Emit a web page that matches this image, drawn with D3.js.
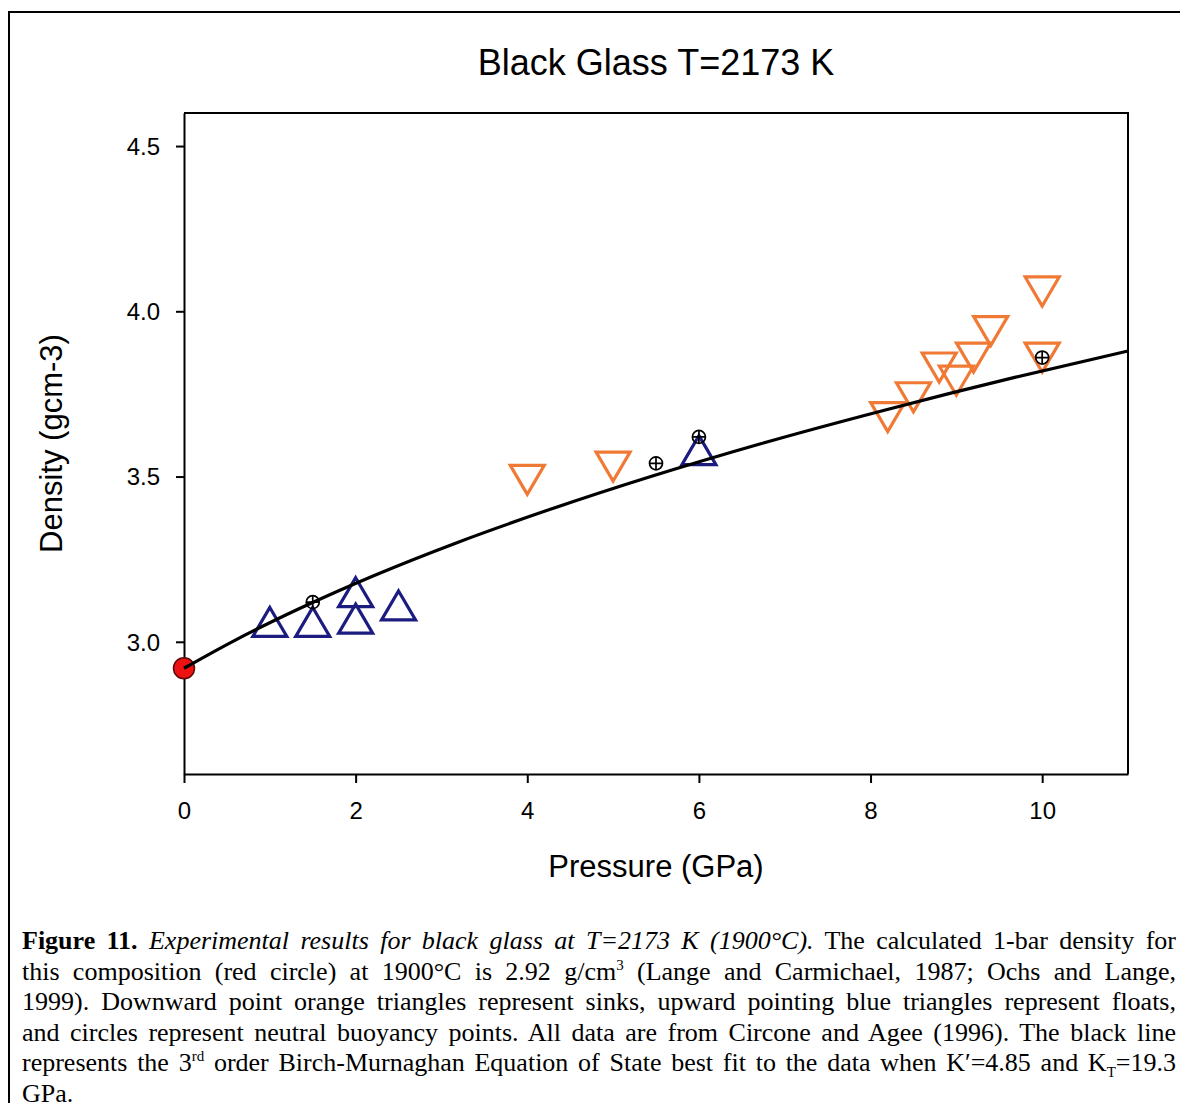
<!DOCTYPE html>
<html>
<head>
<meta charset="utf-8">
<script src="https://cdn.jsdelivr.net/npm/d3@7"></script>
<style>
  html, body { margin: 0; padding: 0; background: #fff; }
  body { width: 1180px; height: 1103px; position: relative; overflow: hidden; }
  #frame { position: absolute; left: 8px; top: 11px; width: 1300px; height: 1200px;
           border-left: 2px solid #000; border-top: 2px solid #000; }
  svg { position: absolute; left: 0; top: 0; }
  #caption { position: absolute; left: 22px; top: 926px; width: 1154px;
             font-family: "Liberation Serif", "Times New Roman", serif; font-size: 26px;
             line-height: 30.5px; color: #000; }
  #caption .ln { text-align: justify; text-align-last: justify; white-space: nowrap; }
  #caption .ln.last { text-align-last: left; }
  #caption sup, #caption sub { font-size: 15px; line-height: 0; }
</style>
</head>
<body>
<div id="frame"></div>
<svg id="chart" width="1180" height="1103"></svg>
<div id="caption"></div>
<script>
// Density measurements (g/cm^3) versus pressure (GPa)
const sinkP      = [4.0, 5.0, 8.2, 8.5, 8.8, 9.0, 9.2, 9.4, 10.0, 10.0];
const sinkRho    = [3.49, 3.53, 3.68, 3.74, 3.83, 3.79, 3.86, 3.94, 4.06, 3.86];
const floatP     = [1.0, 1.5, 2.0, 2.0, 2.5, 6.0];
const floatRho   = [3.06, 3.06, 3.15, 3.07, 3.11, 3.58];
const neutralP   = [1.5, 5.5, 6.0, 10.0];
const neutralRho = [3.12, 3.54, 3.62, 3.86];
const oneBarP    = [0];
const oneBarRho  = [2.92];

// Birch-Murnaghan fit curve, sampled along the drawn line
const fitP   = [0, 0.56, 1.34, 2.21, 3.18, 4.26, 5.44, 6.73, 8.15, 9.68, 11.0];
const fitRho = [2.92, 3.00, 3.10, 3.20, 3.30, 3.40, 3.50, 3.60, 3.70, 3.80, 3.88];

const xTicks = [0, 2, 4, 6, 8, 10];
const yTicks = [3.0, 3.5, 4.0, 4.5];

const svg = d3.select("#chart");
const plotL = 184, plotR = 1128, plotT = 113, plotB = 774;

const x = d3.scaleLinear().domain([0, 11]).range([plotL, plotR]);
const y = d3.scaleLinear().domain([2.6, 4.6]).range([plotB, plotT]);

const font = "Arial, 'Liberation Sans', sans-serif";

// Plot frame: top and right edges
svg.append("path")
  .attr("d", `M${plotL},${plotT}H${plotR}V${plotB}`)
  .attr("fill", "none").attr("stroke", "#000").attr("stroke-width", 2);

// Axes
const xAxis = svg.append("g").attr("transform", `translate(0,${plotB})`)
  .call(d3.axisBottom(x).tickValues(xTicks).tickFormat(d3.format("d")).tickSizeInner(9).tickSizeOuter(0).tickPadding(19));
const yAxis = svg.append("g").attr("transform", `translate(${plotL},0)`)
  .call(d3.axisLeft(y).tickValues(yTicks).tickFormat(d3.format(".1f")).tickSizeInner(8).tickSizeOuter(0).tickPadding(16));
[xAxis, yAxis].forEach(g => {
  g.select(".domain").attr("stroke", "#000").attr("stroke-width", 2);
  g.selectAll(".tick line").attr("stroke", "#000").attr("stroke-width", 2);
  g.selectAll(".tick text").attr("font-family", font).attr("font-size", 24).attr("fill", "#000");
});
yAxis.selectAll(".tick text").attr("dy", "0.35em");

// Titles
svg.append("text").attr("x", (plotL + plotR) / 2).attr("y", 75)
  .attr("text-anchor", "middle").attr("font-family", font).attr("font-size", 36)
  .text("Black Glass T=2173 K");
svg.append("text").attr("x", (plotL + plotR) / 2).attr("y", 877)
  .attr("text-anchor", "middle").attr("font-family", font).attr("font-size", 31)
  .text("Pressure (GPa)");
svg.append("text")
  .attr("transform", `translate(62,${(plotT + plotB) / 2}) rotate(-90)`)
  .attr("text-anchor", "middle").attr("font-family", font).attr("font-size", 31)
  .text("Density (gcm-3)");

const zip = (a, b) => a.map((v, i) => [v, b[i]]);
const hw = 17, hh = 14.5;
const upTri = `M0,${-hh}L${hw},${hh}L${-hw},${hh}Z`;
const downTri = `M${-hw},${-hh}L${hw},${-hh}L0,${hh}Z`;

// Floats: upward blue triangles
svg.append("g").selectAll("path").data(zip(floatP, floatRho)).join("path")
  .attr("d", upTri)
  .attr("transform", d => `translate(${x(d[0])},${y(d[1])})`)
  .attr("fill", "none").attr("stroke", "#1c1c80").attr("stroke-width", 3.2)
  .attr("stroke-linejoin", "miter");

// Sinks: downward orange triangles
svg.append("g").selectAll("path").data(zip(sinkP, sinkRho)).join("path")
  .attr("d", downTri)
  .attr("transform", d => `translate(${x(d[0])},${y(d[1])})`)
  .attr("fill", "none").attr("stroke", "#f07a35").attr("stroke-width", 3.2)
  .attr("stroke-linejoin", "miter");

// 1-bar calculated density
svg.append("g").selectAll("circle").data(zip(oneBarP, oneBarRho)).join("circle")
  .attr("cx", d => x(d[0])).attr("cy", d => y(d[1])).attr("r", 10.5)
  .attr("fill", "#ee1111").attr("stroke", "#5a0a0a").attr("stroke-width", 1.5);

// Fit line
svg.append("path")
  .datum(zip(fitP, fitRho))
  .attr("d", d3.line().x(d => x(d[0])).y(d => y(d[1])).curve(d3.curveMonotoneX))
  .attr("fill", "none").attr("stroke", "#000").attr("stroke-width", 3.2);

// Neutral buoyancy: circle with crosshair
const neutral = svg.append("g").selectAll("g").data(zip(neutralP, neutralRho)).join("g")
  .attr("transform", d => `translate(${x(d[0])},${y(d[1])})`);
neutral.append("circle").attr("r", 6.5).attr("fill", "none").attr("stroke", "#000").attr("stroke-width", 1.7);
neutral.append("path").attr("d", "M-6.5,0H6.5M0,-6.5V6.5").attr("stroke", "#000").attr("stroke-width", 1.7);

// Caption
const captionLines = [
  '<b>Figure 11.</b> <i>Experimental results for black glass at T=2173 K (1900°C).</i> The calculated 1-bar density for',
  'this composition (red circle) at 1900°C is 2.92 g/cm<sup>3</sup> (Lange and Carmichael, 1987; Ochs and Lange,',
  '1999). Downward point orange triangles represent sinks, upward pointing blue triangles represent floats,',
  'and circles represent neutral buoyancy points. All data are from Circone and Agee (1996). The black line',
  'represents the 3<sup>rd</sup> order Birch-Murnaghan Equation of State best fit to the data when K′=4.85 and K<sub>T</sub>=19.3',
  'GPa.'
];
d3.select("#caption").selectAll("div").data(captionLines).join("div")
  .attr("class", (d, i) => i === captionLines.length - 1 ? "ln last" : "ln")
  .html(d => d);
</script>
</body>
</html>
